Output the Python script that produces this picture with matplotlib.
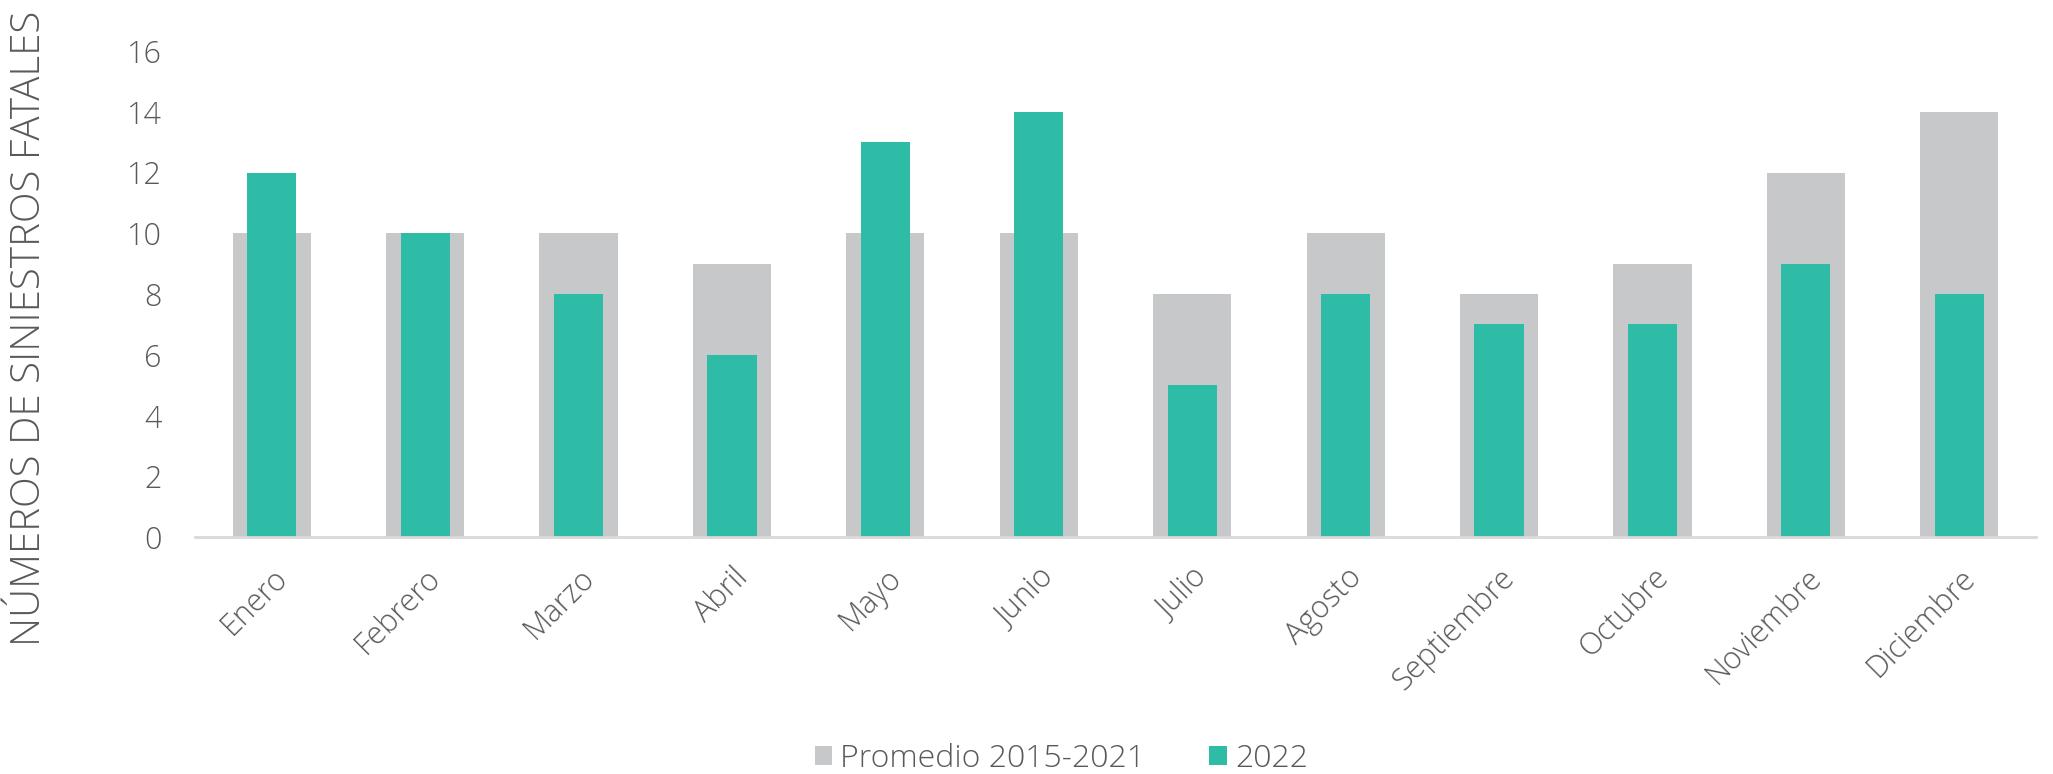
import matplotlib.pyplot as plt
import numpy as np

meses = ['Enero', 'Febrero', 'Marzo', 'Abril', 'Mayo', 'Junio', 'Julio',
         'Agosto', 'Septiembre', 'Octubre', 'Noviembre', 'Diciembre']
promedio = [10, 10, 10, 9, 10, 10, 8, 10, 8, 9, 12, 14]
anio_2022 = [12, 10, 8, 6, 13, 14, 5, 8, 7, 7, 9, 8]

GRIS = '#C7C8CA'
VERDE = '#2EBCA7'
TEXTO = '#595959'

plt.rcParams['font.family'] = ['Open Sans', 'DejaVu Sans']
plt.rcParams['font.weight'] = 300

fig = plt.figure(figsize=(20.53, 7.74), dpi=100)
ax = fig.add_axes([195 / 2053, 1 - 537 / 774, (2036 - 195) / 2053, (537 - 51) / 774])

x = np.arange(len(meses))
ax.bar(x, promedio, width=0.51, color=GRIS, label='Promedio 2015-2021', zorder=1)
ax.bar(x, anio_2022, width=0.32, color=VERDE, label='2022', zorder=2)

ax.set_xlim(-0.5, len(meses) - 0.5)
ax.set_ylim(0, 16)
ax.set_yticks(range(0, 17, 2))
ax.set_xticks(x)
ax.set_xticklabels(meses, rotation=45, ha='right', rotation_mode='anchor',
                   fontsize=22, color=TEXTO)
ax.tick_params(axis='y', labelsize=22, labelcolor=TEXTO, length=0, pad=24)
ax.tick_params(axis='x', length=0, pad=18)

for s in ['top', 'right', 'left']:
    ax.spines[s].set_visible(False)
ax.spines['bottom'].set_color('#D9D9D9')
ax.spines['bottom'].set_linewidth(2)

fig.text(30 / 2053, 1 - 328 / 774, 'NÚMEROS DE SINIESTROS FATALES', rotation=90,
         ha='center', va='center', fontsize=29, color=TEXTO)

fig.legend(loc='center', bbox_to_anchor=(0.517, 1 - 759 / 774), ncol=2, frameon=False,
           fontsize=23, labelcolor=TEXTO, handlelength=0.55, handleheight=0.55,
           handletextpad=0.25, columnspacing=2.0)

plt.savefig('out.png', dpi=100)
